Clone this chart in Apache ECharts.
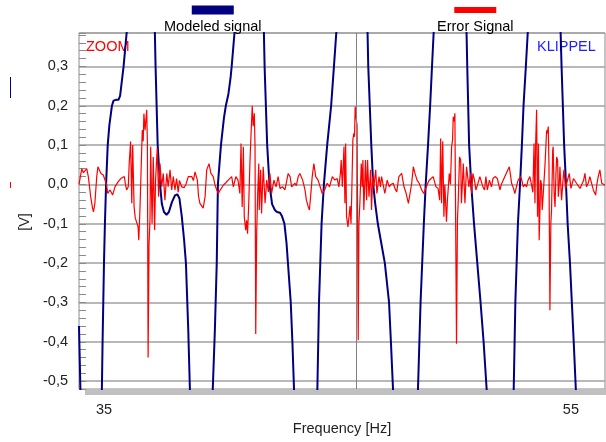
<!DOCTYPE html>
<html>
<head>
<meta charset="utf-8">
<title>Modeled signal / Error Signal</title>
<script src="https://cdn.jsdelivr.net/npm/echarts@6.0.0/dist/echarts.min.js"></script>
<style>
  html, body { margin: 0; padding: 0; background: #fff; }
  #chart { width: 606px; height: 442px; }
</style>
</head>
<body>
<div id="chart"></div>
<script>
// axis ranges (V and Hz)
const yMin = -0.52
const yMax = 0.385
const yStep = 0.02
const freqMin = 33.93
const freqMax = 56.46
const freqLabels = [35, 55]
const cursorFreq = 45.8

// [frequency Hz, voltage V] - runs off the plot between branches
const modeledSignal = [
  [33.93, -0.36], [33.99, -0.52], [34.44, -0.9],
  [34.91, -0.52], [34.94, -0.4], [35.00, -0.2], [35.04, -0.1], [35.09, 0], [35.16, 0.1],
  [35.23, 0.15], [35.34, 0.2], [35.41, 0.213], [35.51, 0.215], [35.62, 0.215], [35.69, 0.225],
  [35.74, 0.25], [35.84, 0.3], [35.97, 0.385], [36.58, 0.9],
  [37.18, 0.385], [37.21, 0.3], [37.30, 0.1], [37.40, 0], [37.48, -0.05], [37.57, -0.07],
  [37.68, -0.077], [37.78, -0.07], [37.91, -0.045], [38.04, -0.028], [38.14, -0.025],
  [38.23, -0.035], [38.33, -0.08], [38.43, -0.14], [38.51, -0.2], [38.61, -0.37], [38.68, -0.52],
  [39.15, -0.9],
  [39.66, -0.52], [39.75, -0.37], [39.83, -0.2], [39.88, 0], [40.01, 0.1], [40.14, 0.17],
  [40.22, 0.2], [40.33, 0.23], [40.42, 0.27], [40.47, 0.3], [40.59, 0.385], [41.21, 0.9],
  [41.85, 0.385], [41.88, 0.3], [41.99, 0.1], [42.09, 0], [42.20, -0.05], [42.32, -0.065],
  [42.41, -0.07], [42.54, -0.072], [42.62, -0.08], [42.73, -0.1], [42.82, -0.15], [42.88, -0.2],
  [43.00, -0.3], [43.07, -0.4], [43.14, -0.52], [43.65, -0.9],
  [44.14, -0.52], [44.21, -0.3], [44.32, -0.1], [44.42, 0], [44.56, 0.1], [44.73, 0.2],
  [44.85, 0.3], [44.95, 0.385], [45.62, 0.9],
  [46.29, 0.385], [46.32, 0.3], [46.45, 0.1], [46.53, 0], [46.62, -0.05], [46.73, -0.1],
  [46.88, -0.15], [47.03, -0.2], [47.21, -0.3], [47.29, -0.4], [47.38, -0.52], [47.89, -0.9],
  [48.45, -0.52], [48.56, -0.3], [48.70, -0.1], [48.78, 0], [48.88, 0.1], [48.97, 0.2],
  [49.05, 0.3], [49.12, 0.385], [49.82, 0.9],
  [50.53, 0.385], [50.56, 0.3], [50.64, 0.1], [50.73, 0], [50.85, -0.1], [50.99, -0.2],
  [51.13, -0.3], [51.26, -0.4], [51.39, -0.52], [51.96, -0.9],
  [52.55, -0.52], [52.62, -0.3], [52.73, -0.1], [52.82, 0], [52.90, 0.1], [52.97, 0.2],
  [53.07, 0.3], [53.15, 0.385], [53.84, 0.9],
  [54.56, 0.385], [54.60, 0.3], [54.71, 0.1], [54.79, 0], [54.86, -0.1], [54.96, -0.2],
  [55.04, -0.3], [55.12, -0.4], [55.21, -0.52], [55.81, -0.9], [56.50, -0.8]
]

const errorSignal = [
  [33.93, 0.0], [34.05, 0.04], [34.12, 0.03], [34.19, 0.035], [34.26, 0.04], [34.33, 0.02],
  [34.43, -0.031], [34.51, -0.06], [34.55, -0.07], [34.61, -0.048], [34.69, 0.02], [34.74, 0.045],
  [34.80, 0.05], [34.87, 0.028], [34.97, 0.024], [35.04, 0.02], [35.11, 0.0], [35.16, -0.023],
  [35.26, -0.014], [35.37, -0.027], [35.47, -0.006], [35.54, -0.01], [35.61, 0.007], [35.72, 0.015],
  [35.80, 0.02], [35.87, 0.02], [35.92, 0.0], [35.97, -0.014], [36.04, -0.006], [36.08, 0.053],
  [36.14, 0.109], [36.19, -0.048], [36.23, 0.1], [36.29, -0.057], [36.34, -0.085], [36.40, -0.082],
  [36.46, -0.108], [36.49, -0.142], [36.54, -0.065], [36.59, 0.037], [36.64, 0.138], [36.68, 0.11],
  [36.71, 0.18], [36.76, 0.138], [36.79, 0.16], [36.83, 0.19], [36.86, 0.104], [36.89, -0.44],
  [36.93, -0.15], [36.97, -0.091], [37.00, 0.096], [37.06, -0.099], [37.11, 0.07], [37.17, -0.116],
  [37.21, 0.011], [37.28, 0.092], [37.34, -0.031], [37.40, 0.053], [37.47, -0.006], [37.54, 0.028],
  [37.61, -0.04], [37.69, 0.028], [37.75, -0.006], [37.83, 0.037], [37.90, -0.014], [37.97, 0.02],
  [38.04, -0.014], [38.11, 0.015], [38.18, -0.02], [38.23, 0.01], [38.33, -0.006], [38.43, -0.008],
  [38.51, 0.0], [38.61, 0.02], [38.68, 0.018], [38.76, 0.02], [38.83, 0.01], [38.90, 0.032],
  [39.00, 0.011], [39.05, -0.03], [39.11, -0.048], [39.18, -0.05], [39.25, -0.06], [39.33, -0.031],
  [39.40, 0.037], [39.50, 0.053], [39.58, 0.028], [39.68, 0.02], [39.75, 0.0], [39.83, -0.014],
  [39.90, -0.023], [39.97, -0.015], [40.11, -0.002], [40.23, 0.005], [40.32, 0.011], [40.47, 0.02],
  [40.54, -0.006], [40.65, 0.02], [40.74, 0.011], [40.82, -0.023], [40.87, 0.104], [40.92, -0.057],
  [40.97, 0.096], [41.01, -0.082], [41.07, -0.116], [41.11, -0.091], [41.15, -0.125], [41.20, -0.05],
  [41.25, 0.053], [41.30, 0.13], [41.35, 0.2], [41.39, 0.148], [41.44, 0.181], [41.47, 0.096],
  [41.50, -0.38], [41.54, -0.125], [41.58, -0.031], [41.63, 0.053], [41.65, -0.065], [41.71, 0.037],
  [41.75, -0.074], [41.82, 0.045], [41.90, -0.048], [41.97, 0.011], [42.04, -0.019], [42.11, 0.028],
  [42.18, -0.023], [42.28, 0.011], [42.37, -0.006], [42.46, 0.02], [42.54, -0.01], [42.65, -0.006],
  [42.75, -0.014], [42.82, 0.007], [42.89, 0.028], [42.97, 0.02], [43.04, -0.006], [43.09, -0.002],
  [43.18, 0.003], [43.24, -0.003], [43.32, 0.02], [43.39, 0.028], [43.51, 0.011], [43.61, -0.014],
  [43.67, -0.04], [43.75, -0.057], [43.80, -0.065], [43.85, -0.031], [43.92, 0.02], [43.99, 0.053],
  [44.07, 0.02], [44.17, 0.011], [44.24, 0.015], [44.35, -0.023], [44.45, -0.014], [44.56, 0.003],
  [44.66, -0.006], [44.78, 0.02], [44.89, 0.011], [44.99, 0.015], [45.06, -0.006], [45.13, 0.03],
  [45.16, 0.062], [45.21, -0.006], [45.28, 0.096], [45.32, -0.048], [45.35, 0.104], [45.39, -0.082],
  [45.45, -0.108], [45.51, -0.112], [45.54, -0.055], [45.58, -0.1], [45.61, -0.031], [45.66, 0.113],
  [45.70, 0.13], [45.73, 0.121], [45.76, 0.198], [45.81, 0.164], [45.84, 0.15], [45.89, -0.396],
  [45.92, -0.099], [45.96, -0.048], [46.02, 0.053], [46.06, -0.006], [46.09, 0.062], [46.13, -0.065],
  [46.16, -0.014], [46.20, 0.062], [46.25, -0.04], [46.29, 0.062], [46.35, -0.031], [46.42, 0.037],
  [46.46, -0.065], [46.51, 0.02], [46.56, -0.006], [46.64, 0.037], [46.69, -0.023], [46.78, 0.02],
  [46.84, -0.006], [46.89, 0.02], [46.96, 0.018], [47.03, -0.023], [47.13, 0.011], [47.22, -0.006],
  [47.29, 0.0], [47.35, -0.002], [47.39, 0.003], [47.46, -0.01], [47.54, -0.019], [47.63, 0.02],
  [47.75, 0.028], [47.85, -0.006], [47.93, -0.02], [47.99, -0.023], [48.04, -0.048], [48.08, -0.045],
  [48.18, 0.003], [48.25, 0.045], [48.32, 0.028], [48.41, 0.011], [48.50, 0.003], [48.61, -0.014],
  [48.70, -0.023], [48.81, -0.006], [48.92, 0.01], [49.00, 0.015], [49.10, 0.02], [49.22, -0.006],
  [49.31, -0.01], [49.38, -0.04], [49.42, 0.117], [49.46, -0.048], [49.51, 0.11], [49.56, -0.082],
  [49.60, 0.0], [49.67, -0.095], [49.71, -0.04], [49.79, 0.028], [49.84, 0.0], [49.89, 0.096],
  [49.93, 0.113], [49.96, 0.172], [50.00, 0.16], [50.03, 0.181], [50.10, -0.405], [50.14, -0.09],
  [50.17, -0.048], [50.23, 0.07], [50.28, 0.062], [50.31, -0.048], [50.35, 0.0], [50.39, 0.053],
  [50.46, -0.048], [50.53, 0.045], [50.59, 0.045], [50.63, -0.006], [50.70, 0.028], [50.75, -0.023],
  [50.80, 0.028], [50.87, 0.011], [50.93, -0.014], [51.02, 0.003], [51.10, 0.02], [51.17, 0.02],
  [51.23, -0.006], [51.30, -0.014], [51.36, 0.02], [51.42, -0.014], [51.51, 0.011], [51.60, -0.006],
  [51.66, 0.015], [51.75, 0.02], [51.85, 0.015], [51.96, -0.014], [52.02, 0.0], [52.10, 0.003],
  [52.17, 0.02], [52.25, 0.02], [52.36, 0.045], [52.41, 0.025], [52.46, 0.003], [52.54, -0.01],
  [52.60, -0.023], [52.67, -0.005], [52.74, 0.011], [52.85, 0.02], [52.90, 0.01], [52.96, -0.006],
  [53.03, 0.0], [53.10, -0.006], [53.16, 0.01], [53.24, 0.02], [53.31, 0.0], [53.37, -0.02],
  [53.42, 0.104], [53.46, -0.048], [53.49, 0.104], [53.53, 0.19], [53.57, -0.082], [53.61, 0.104],
  [53.64, -0.142], [53.68, -0.05], [53.70, 0.011], [53.74, 0.0], [53.77, -0.065], [53.82, -0.02],
  [53.89, 0.05], [53.96, 0.138], [53.99, 0.13], [54.03, 0.147], [54.06, 0.05], [54.10, -0.32],
  [54.14, -0.1], [54.17, -0.065], [54.22, 0.087], [54.24, 0.096], [54.28, -0.02], [54.32, -0.057],
  [54.36, 0.03], [54.39, 0.07], [54.43, 0.062], [54.46, -0.031], [54.50, 0.0], [54.53, 0.045],
  [54.60, -0.04], [54.66, 0.01], [54.70, 0.037], [54.77, -0.01], [54.82, -0.014], [54.87, 0.015],
  [54.93, 0.028], [55.00, -0.01], [55.03, -0.006], [55.11, 0.015], [55.17, 0.02], [55.24, 0.003],
  [55.31, 0.003], [55.39, -0.01], [55.46, -0.014], [55.54, 0.01], [55.60, 0.028], [55.67, -0.006],
  [55.75, 0.005], [55.81, 0.02], [55.90, 0.0], [55.96, -0.014], [56.06, -0.027], [56.11, 0.0],
  [56.17, 0.02], [56.24, 0.037], [56.32, 0.003], [56.39, -0.002], [56.46, -0.002]
]

const FONT = "'Liberation Sans', Arial, sans-serif"
const NAVY = '#000080'
const RED = '#ff0000'

// only every 5th tick (0.1 V) gets a label / grid line
const isMajor = (v) => Math.abs(v * 10 - Math.round(v * 10)) < 1e-6

const chart = echarts.init(document.getElementById('chart'))

const legendItem = (name, left, boxColor, boxHeight) => ({
  data: [name],
  left: left,
  top: 4,
  padding: 0,
  itemWidth: 0,
  itemHeight: 0,
  selectedMode: false,
  formatter: (n) => '{box| }\n{txt|' + n + '}',
  textStyle: {
    rich: {
      box: { width: 42, height: boxHeight, lineHeight: 12, backgroundColor: boxColor, align: 'center' },
      txt: { fontSize: 14.5, fontFamily: FONT, color: '#000', lineHeight: 22, align: 'center' }
    }
  }
})

chart.setOption({
  animation: false,
  backgroundColor: '#fff',
  legend: [
    legendItem('Modeled signal', 158, NAVY, 9),
    legendItem('Error Signal', 431, RED, 6)
  ],
  grid: {
    left: 79,
    right: 1,
    top: 33,
    bottom: 53,
    show: true,
    borderColor: '#8a8a8a',
    borderWidth: 1
  },
  xAxis: {
    type: 'value',
    min: freqMin,
    max: freqMax,
    name: 'Frequency [Hz]',
    nameLocation: 'middle',
    nameGap: 32,
    nameTextStyle: { fontSize: 14.5, fontFamily: FONT, color: '#222' },
    axisLine: { show: false },
    axisTick: { show: false },
    splitLine: { show: false },
    axisLabel: {
      customValues: freqLabels,
      margin: 13,
      fontSize: 14.5,
      fontFamily: FONT,
      color: '#222'
    }
  },
  yAxis: {
    type: 'value',
    min: yMin,
    max: yMax,
    interval: yStep,
    name: '[V]',
    nameLocation: 'middle',
    nameGap: 47,
    nameTextStyle: { fontSize: 14.5, fontFamily: FONT, color: '#222', padding: [0, 22, 0, 0] },
    axisLine: { show: false },
    axisTick: { show: true, inside: true, length: 7, lineStyle: { color: '#8a8a8a' } },
    axisLabel: {
      margin: 11,
      fontSize: 14.5,
      fontFamily: FONT,
      color: '#222',
      formatter: (v) => (isMajor(v) ? (Math.round(v * 10) / 10).toFixed(1).replace('.', ',') : '')
    },
    splitLine: {
      show: true,
      showMinLine: true,
      showMaxLine: true,
      lineStyle: {
        color: ['transparent', '#a0a0a0', 'transparent', 'transparent', 'transparent'],
        width: 1.6
      }
    }
  },
  graphic: [
    { type: 'rect', shape: { x: 85, y: 389, width: 521, height: 6 }, style: { fill: '#c0c0c0' }, silent: true },
    { type: 'text', left: 86, top: 39, style: { text: 'ZOOM', fill: RED, fontSize: 14.5, fontFamily: FONT } },
    { type: 'text', left: 537, top: 39, style: { text: 'KLIPPEL', fill: '#1f1fff', fontSize: 14.5, fontFamily: FONT } },
    { type: 'line', shape: { x1: 10.5, y1: 77, x2: 10.5, y2: 98 }, style: { stroke: NAVY, lineWidth: 1 } },
    { type: 'line', shape: { x1: 10.5, y1: 182, x2: 10.5, y2: 188 }, style: { stroke: RED, lineWidth: 1 } }
  ],
  series: [
    {
      name: 'Modeled signal',
      type: 'line',
      data: modeledSignal,
      symbol: 'none',
      clip: true,
      z: 2,
      itemStyle: { color: NAVY },
      lineStyle: { color: NAVY, width: 2 },
      markLine: {
        silent: true,
        symbol: ['none', 'none'],
        label: { show: false },
        lineStyle: { color: '#808080', width: 1, type: 'solid' },
        data: [{ xAxis: cursorFreq }]
      }
    },
    {
      name: 'Error Signal',
      type: 'line',
      data: errorSignal,
      symbol: 'none',
      clip: true,
      z: 3,
      itemStyle: { color: RED },
      lineStyle: { color: RED, width: 1.2 }
    }
  ]
})
</script>
</body>
</html>
